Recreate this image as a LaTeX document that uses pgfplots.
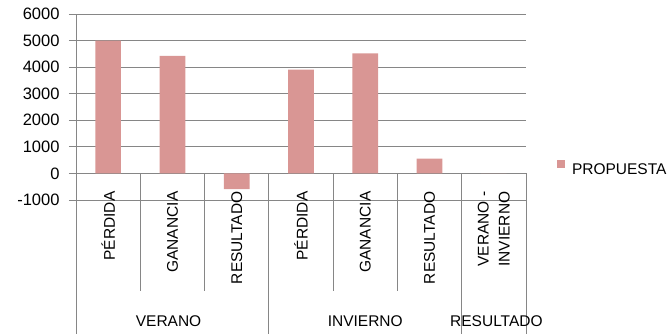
\documentclass[border=0pt]{standalone}
\usepackage{pgfplots}
\pgfplotsset{compat=1.18}
\usepackage{fontspec}
\setmainfont{Liberation Sans}
\definecolor{barpink}{RGB}{217,150,148}
\definecolor{gridgray}{RGB}{134,134,134}
\newcommand{\catfont}{\fontsize{15.5}{21}\selectfont}
\begin{document}
\begin{tikzpicture}
\useasboundingbox (0pt,0pt) rectangle (667pt,335pt);
\begin{axis}[
  at={(76pt,135pt)}, anchor=south west,
  width=450pt, height=186pt, scale only axis,
  xmin=-0.5, xmax=6.5, ymin=-1000, ymax=6000,
  ytick={-1000,0,1000,2000,3000,4000,5000,6000},
  xtick=\empty,
  axis line style={draw=none},
  ymajorgrids, grid style={gridgray, line width=0.8pt},
  ytick pos=left, tick align=outside, major tick length=7pt,
  tick style={gridgray, line width=0.8pt},
  scaled y ticks=false,
  yticklabel style={font=\fontsize{16.5}{19}\selectfont, xshift=-6pt,
    /pgf/number format/assume math mode=true,
    /pgf/number format/1000 sep={}},
  clip=false,
  legend style={draw=none, fill=none, inner sep=0pt, outer sep=0pt,
    nodes={inner sep=0pt}, font=\catfont,
    at={(1.0689,0.172)}, anchor=west},
  legend image code/.code={
    \fill[#1, draw=none] (0pt,1.5pt) rectangle (8pt,9.5pt);
    \path (15pt,0pt);
  },
]
\addplot[ybar, bar width=0.4, fill=barpink, draw=none]
  coordinates {(0,5000) (1,4420) (2,-590) (3,3910) (4,4520) (5,560) (6,0)};
\addlegendentry{PROPUESTA}

% left axis line, running down through the category box
\draw[gridgray, line width=0.8pt] (axis cs:-0.5,6000) -- ([yshift=-161pt]axis cs:-0.5,0);
% separators between categories inside a group
\pgfplotsinvokeforeach{0.5,1.5,3.5,4.5}{
  \draw[gridgray, line width=0.8pt] (axis cs:#1,0) -- ([yshift=-118pt]axis cs:#1,0);
}
% separators between groups
\pgfplotsinvokeforeach{2.5,5.5,6.5}{
  \draw[gridgray, line width=0.8pt] (axis cs:#1,0) -- ([yshift=-161pt]axis cs:#1,0);
}
% category names
\node[rotate=90, anchor=east, inner sep=0pt, font=\catfont] at ([yshift=-18pt]axis cs:0,0) {PÉRDIDA};
\node[rotate=90, anchor=east, inner sep=0pt, font=\catfont] at ([yshift=-18pt]axis cs:1,0) {GANANCIA};
\node[rotate=90, anchor=east, inner sep=0pt, font=\catfont] at ([yshift=-18pt]axis cs:2,0) {RESULTADO};
\node[rotate=90, anchor=east, inner sep=0pt, font=\catfont] at ([yshift=-18pt]axis cs:3,0) {PÉRDIDA};
\node[rotate=90, anchor=east, inner sep=0pt, font=\catfont] at ([yshift=-18pt]axis cs:4,0) {GANANCIA};
\node[rotate=90, anchor=east, inner sep=0pt, font=\catfont] at ([yshift=-18pt]axis cs:5,0) {RESULTADO};
\node[rotate=90, anchor=east, inner sep=0pt, font=\catfont, align=center] at ([yshift=-18pt]axis cs:6,0) {VERANO -\\INVIERNO};
% group names
\node[font=\catfont, inner sep=0pt] at ([yshift=-147.7pt]axis cs:0.94,0) {VERANO};
\node[font=\catfont, inner sep=0pt] at ([yshift=-147.7pt]axis cs:4,0) {INVIERNO};
\node[font=\catfont, inner sep=0pt] at ([yshift=-147.7pt]axis cs:6.04,0) {RESULTADO};
\end{axis}
\end{tikzpicture}
\end{document}
